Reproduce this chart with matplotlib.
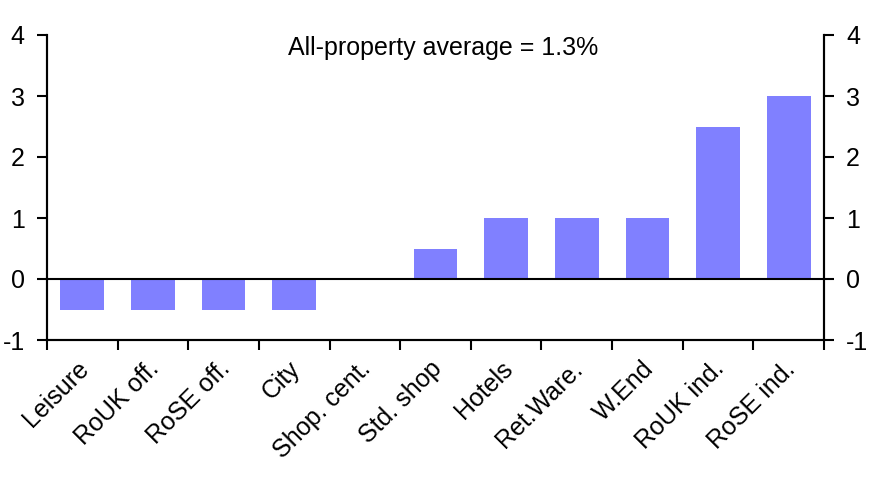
import matplotlib
matplotlib.use("Agg")
import matplotlib.pyplot as plt
import matplotlib.transforms as mtransforms
import numpy as np

categories = ["Leisure", "RoUK off.", "RoSE off.", "City", "Shop. cent.", "Std. shop",
              "Hotels", "Ret.Ware.", "W.End", "RoUK ind.", "RoSE ind."]
values = [-0.5, -0.5, -0.5, -0.5, 0.0, 0.5, 1.0, 1.0, 1.0, 2.5, 3.0]
yticks = [-1, 0, 1, 2, 3, 4]
annotation = "All-property average = 1.3%"

plt.rcParams['font.family'] = ['Liberation Sans', 'DejaVu Sans']
FS = 18

fig = plt.figure(figsize=(8.77, 4.8), dpi=100)
ax = fig.add_axes([47/877, 1-340/480, (824-47)/877, (340-35)/480])

x = np.arange(len(categories))
ax.bar(x, values, width=0.62, color="#8080FF", zorder=2)
ax.axhline(0, color="black", lw=1.5, zorder=3)

ax.set_xlim(-0.5, len(categories)-0.5)
ax.set_ylim(-1, 4)
ax.set_yticks(yticks)
ax.set_yticklabels([str(t) for t in yticks], fontsize=FS)

ax.set_xticks(x)
ax.set_xticklabels(categories, fontsize=FS, rotation=45, ha='right', va='top',
                   rotation_mode='anchor')
ax.tick_params(axis='x', which='major', length=0, pad=12)
offset = mtransforms.ScaledTranslation(-6/100, 0, fig.dpi_scale_trans)
for lbl in ax.get_xticklabels():
    lbl.set_transform(lbl.get_transform() + offset)
ax.set_xticks(np.arange(len(categories)+1)-0.5, minor=True)
ax.tick_params(axis='x', which='minor', length=7, width=1.5, direction='out')
ax.tick_params(axis='y', length=7, width=1.5, direction='out', labelsize=FS, pad=9)

ax2 = ax.twinx()
ax2.set_ylim(-1, 4)
ax2.set_yticks(yticks)
ax2.set_yticklabels([str(t) for t in yticks], fontsize=FS)
ax2.tick_params(axis='y', length=7, width=1.5, direction='out', labelsize=FS, pad=9)

for a in (ax, ax2):
    a.spines['top'].set_visible(False)
    for s in ('left', 'right', 'bottom'):
        a.spines[s].set_linewidth(1.5)

ax.text(0.51, 0.957, annotation, transform=ax.transAxes, ha='center', va='center', fontsize=FS)

fig.savefig("out.png", dpi=100)
